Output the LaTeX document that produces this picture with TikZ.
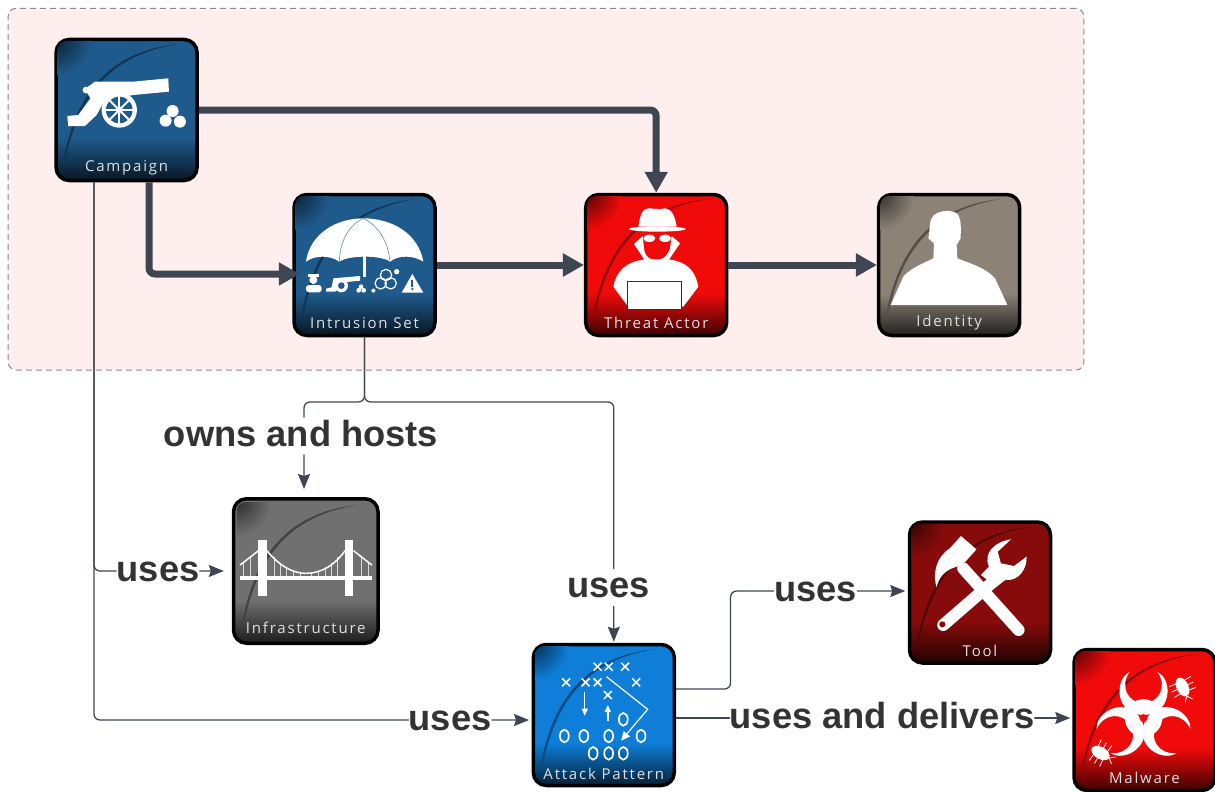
\documentclass[tikz,border=0pt]{standalone}
\usepackage{fontspec}
\setmainfont{Liberation Sans}
\newfontfamily\boxcaptionfont[LetterSpace=12]{Open Sans}
\usetikzlibrary{arrows.meta, positioning}

\definecolor{zonepink}{HTML}{FEEFEE}
\definecolor{zonegray}{HTML}{8A8A96}
\definecolor{linkgray}{HTML}{3F4651}
\definecolor{labelgray}{HTML}{333333}
\definecolor{campaignblue}{HTML}{1F5A8C}
\definecolor{threatred}{HTML}{F00A0A}
\definecolor{identitytan}{HTML}{8C8376}
\definecolor{infragray}{HTML}{707070}
\definecolor{attackblue}{HTML}{0E7ED8}
\definecolor{tooldark}{HTML}{880B0B}

\pgfdeclareverticalshading[boxbase]{iconshade}{100bp}{color(0bp)=(boxbase!25!black); color(25bp)=(boxbase!25!black); color(40bp)=(boxbase); color(100bp)=(boxbase)}

% corner glow and swoosh of a box
\newcommand{\iconback}[1]{%
  \begin{scope}[shift={(#1.center)}]
    \begin{scope}
      \clip[rounded corners=9pt] (-69,-69) rectangle (69,69);
      \shade[inner color=boxbase!40!black, outer color=boxbase] (-69,-69) circle (34);
    \end{scope}
    \fill[boxbase!60!black] (-64,55) .. controls (-50,-30) and (-5,-60) .. (52,-66) .. controls (-3,-57) and (-47,-29) .. (-62,55) -- cycle;
  \end{scope}}

\begin{document}
\begin{tikzpicture}[x=1pt,y=-1pt,on grid,
	iconbox/.style={rectangle,rounded corners=13pt,draw=black,line width=3.5pt,minimum size=141pt,inner sep=0pt,shade,shading=iconshade},
	boxcaption/.style={text=white!88!black,font=\boxcaptionfont\fontsize{15}{17}\selectfont},
	zonebox/.style={rectangle,rounded corners=8pt,draw=zonegray,fill=zonepink,line width=1pt,dash pattern=on 6pt off 4pt,minimum width=1075.7pt,minimum height=361.7pt},
	heavylink/.style={draw=linkgray,line width=7pt,rounded corners=6pt,-{Triangle[length=21pt,width=22pt]}},
	thinlink/.style={draw=linkgray,line width=1.3pt,rounded corners=6pt,-{Stealth[length=15pt,width=12pt,inset=2pt]}},
	linklabel/.style={fill=white,text=labelgray,font=\bfseries\fontsize{36.3}{40}\selectfont,inner xsep=0pt,inner ysep=2pt,text height=27pt,text depth=6pt},
	iconart/.style={fill=white,draw=none}]

	\useasboundingbox (0,0) rectangle (1215,792);

	\node (zone) [zonebox] at (546,189.2) {};

	% boxes
	\colorlet{boxbase}{campaignblue}
	\node (campaign) [iconbox] at (126.6,110) {};
	\iconback{campaign}
	\begin{scope}[shift={(campaign.center)},scale=1/3,shift={(-380,-330)}]
		\fill[iconart] (262,262) -- (285,245) -- (400,245) -- (505,235) -- (507,275) -- (400,285) -- (315,300) -- (290,345) -- (255,378) -- (205,378) -- (202,348) -- (235,345) -- (272,295) -- (262,280) -- cycle;
		\fill[iconart] (258,270) circle (10);
		\fill[iconart] (358,330) circle (53);
		\fill[boxbase] (358,330) circle (40);
		\foreach \spoke in {0,45,90,135}
			\draw[white,line width=2pt] (358,330) ++(\spoke:42) -- ++(\spoke+180:84);
		\fill[iconart] (358,330) circle (11);
		\fill[iconart] (518,333) circle (18);
		\fill[iconart] (497,362) circle (18);
		\fill[iconart] (540,365) circle (18);
	\end{scope}
	\node (campaigntext) [boxcaption] at ([yshift=-58pt]campaign.center) {Campaign};

	\node (intrusion) [iconbox,below right=155pt and 237.9pt of campaign] {};
	\iconback{intrusion}
	\begin{scope}[shift={(intrusion.center)},scale=1/3,shift={(-1093.5,-795)}]
		\fill[iconart] (918,785) .. controls (930,700) and (1010,655) .. (1090,655) .. controls (1175,655) and (1255,700) .. (1270,785) .. controls (1240,765) and (1195,765) .. (1170,785) .. controls (1145,765) and (1045,765) .. (1018,785) .. controls (990,765) and (945,765) .. (918,785) -- cycle;
		\draw[boxbase!70!white,line width=.6pt] (1090,655) .. controls (1040,680) and (1020,730) .. (1018,785);
		\draw[boxbase!70!white,line width=.6pt] (1090,655) .. controls (1140,680) and (1165,730) .. (1170,785);
		\fill[iconart] (1089,765) rectangle (1099,832);
		% hat man
		\fill[iconart] (925,822) rectangle (957,832);
		\fill[iconart] (940,840) circle (12);
		\fill[iconart,rounded corners=3pt] (918,855) rectangle (965,877);
		% small cannon
		\fill[iconart] (1000,835) -- (1080,828) -- (1080,842) -- (1040,846) -- (1005,875) -- (978,875) -- (978,866) -- (995,862) -- cycle;
		\fill[iconart] (1024,857) circle (20);
		\fill[boxbase] (1024,857) circle (10);
		\fill[iconart] (1083,860) circle (7);
		\fill[iconart] (1076,871) circle (7);
		\fill[iconart] (1091,871) circle (7);
		% small biohazard
		\draw[white,line width=1.2pt] (1158,825) circle (17);
		\draw[white,line width=1.2pt] (1142,850) circle (17);
		\draw[white,line width=1.2pt] (1172,850) circle (17);
		\fill[iconart] (1190,815) circle (8);
		\fill[iconart] (1120,872) circle (6);
		% warning sign
		\fill[iconart] (1237,822) -- (1270,878) -- (1205,878) -- cycle;
		\fill[boxbase] (1234,840) rectangle (1240,860);
		\fill[boxbase] (1237,867) circle (4);
	\end{scope}
	\node (intrusiontext) [boxcaption] at ([yshift=-58pt]intrusion.center) {Intrusion Set};

	\colorlet{boxbase}{threatred}
	\node (threatactor) [iconbox,right=291.7pt of intrusion] {};
	\iconback{threatactor}
	\begin{scope}[shift={(threatactor.center)},scale=1/3,shift={(-258.6,-255)}]
		\fill[iconart] (205,140) .. controls (210,110) and (215,85) .. (235,85) .. controls (250,85) and (270,90) .. (285,85) .. controls (305,85) and (315,110) .. (320,140) -- cycle;
		\fill[iconart] (262,147) ellipse (85 and 8);
		\fill[iconart] (238,175) ellipse (18 and 11);
		\fill[iconart] (285,175) ellipse (18 and 11);
		\fill[iconart] (218,168) -- (192,192) -- (225,242) -- (295,242) -- (330,190) -- (305,168) -- (300,205) .. controls (290,235) and (270,240) .. (260,240) .. controls (245,240) and (225,235) .. (222,205) -- cycle;
		\fill[iconart] (130,320) .. controls (140,270) and (170,245) .. (225,238) -- (295,238) .. controls (350,245) and (375,270) .. (385,320) -- (340,380) -- (178,385) -- cycle;
		\draw[fill=white,draw=tooldark,line width=1pt] (172,303) rectangle (333,388);
	\end{scope}
	\node (threattext) [boxcaption] at ([yshift=-58pt]threatactor.center) {Threat Actor};

	\colorlet{boxbase}{identitytan}
	\node (identity) [iconbox,right=293pt of threatactor] {};
	\iconback{identity}
	\begin{scope}[shift={(identity.center)},scale=1/3,shift={(-1137.6,-255)}]
		\fill[iconart] (962,375) -- (1000,290) .. controls (1020,265) and (1060,250) .. (1090,235) -- (1092,190) -- (1075,175) .. controls (1080,150) and (1078,125) .. (1085,115) .. controls (1095,90) and (1150,85) .. (1165,105) .. controls (1175,125) and (1172,150) .. (1172,175) -- (1160,195) -- (1162,235) .. controls (1200,250) and (1250,265) .. (1275,295) -- (1312,375) -- cycle;
	\end{scope}
	\node (identitytext) [boxcaption] at ([yshift=-58pt]identity.center) {Identity};

	\colorlet{boxbase}{infragray}
	\node (infrastructure) [iconbox,minimum size=144.5pt,below left=306pt and 58.7pt of intrusion] {};
	\iconback{infrastructure}
	\begin{scope}[shift={(infrastructure.center)},scale=1/3,shift={(-677,-543)}]
		\foreach \hx/\hy in {490/520,510/505,582/500,600/518,620/532,640/542,660/547,695/547,715/542,735/532,755/518,772/500,845/505,865/520}
			\draw[white!85!black,line width=.8pt] (\hx,\hy) -- (\hx,560);
		\draw[white,line width=1.5pt] (560,482) .. controls (600,530) and (640,550) .. (677,550) .. controls (720,550) and (760,530) .. (795,482);
		\draw[white,line width=1.5pt] (535,482) -- (480,525);
		\draw[white,line width=1.5pt] (820,482) -- (875,525);
		\fill[iconart] (480,558) rectangle (875,570);
		\fill[iconart] (535,450) rectangle (560,617);
		\fill[iconart] (795,450) rectangle (820,617);
	\end{scope}
	\node (infrastructuretext) [boxcaption] at ([yshift=-57pt]infrastructure.center) {Infrastructure};

	\colorlet{boxbase}{attackblue}
	\node (attackpattern) [iconbox,below right=450pt and 239.3pt of intrusion] {};
	\iconback{attackpattern}
	\begin{scope}[shift={(attackpattern.center)},xscale=.4432,yscale=1/3,shift={(-189,-615)}]
		\foreach \px/\py in {175/470,200/470,237/470,104/517,148/517,175/517,262/517,198/555}
			\draw[white,line width=1.5pt] (\px-9,\py-12) -- (\px+9,\py+12) (\px+9,\py-12) -- (\px-9,\py+12);
		\foreach \px/\py in {233/628,100/678,144/678,200/678,273/678,165/730,200/730,233/730}
			\draw[white,line width=1.7pt] (\px,\py) ellipse (10 and 19);
		\draw[white,line width=1.2pt,-{Triangle[length=7pt,width=6pt]}] (146,545) -- (146,617);
		\draw[white,line width=1.6pt,-{Triangle[length=7pt,width=6pt]}] (198,632) -- (198,585);
		\draw[white,line width=1.2pt,-{Triangle[length=9pt,width=8pt]}] (195,500) -- (288,598) -- (228,692);
	\end{scope}
	\node (attacktext) [boxcaption] at ([yshift=-59pt]attackpattern.center) {Attack Pattern};

	\colorlet{boxbase}{tooldark}
	\node (tool) [iconbox,above right=122.5pt and 376.2pt of attackpattern] {};
	\iconback{tool}
	\begin{scope}[shift={(tool.center)},xscale=.4432,yscale=1/3,shift={(-1038,-247.5)}]
		\draw[white,line width=12pt,line cap=round] (1000,175) -- (1125,360);
		\fill[iconart] (995,78) -- (1030,118) -- (1005,155) -- (985,170) .. controls (960,180) and (945,200) .. (940,232) .. controls (930,190) and (940,140) .. (970,115) -- cycle;
		\draw[white,line width=12pt,line cap=round] (1085,195) -- (955,345);
		\fill[iconart] (1108,88) .. controls (1070,95) and (1045,130) .. (1058,170) -- (1040,195) -- (1075,230) -- (1095,210) .. controls (1125,215) and (1145,175) .. (1143,140) -- (1115,168) -- (1085,160) -- (1078,125) -- cycle;
		\fill[boxbase] (953,343) ellipse (7 and 9);
	\end{scope}
	\node (tooltext) [boxcaption] at ([yshift=-58pt]tool.center) {Tool};

	\colorlet{boxbase}{threatred}
	\node (malware) [iconbox,below right=5pt and 540.7pt of attackpattern] {};
	\iconback{malware}
	\begin{scope}[shift={(malware.center)}]
		\begin{scope}[shift={(-1,-2)}]
			\draw[white,line width=3.5pt] (0,0) circle (17);
			\foreach \blade in {90,210,330} {
				\draw[boxbase,line width=3pt,rotate=\blade] (-4,0) -- (13,0);
				\fill[iconart,rotate=\blade] (46,14) .. controls (38,30) and (3,28) .. (3,0) .. controls (3,-28) and (38,-30) .. (46,-14) .. controls (32,-24) and (15,-16) .. (15,0) .. controls (15,16) and (32,24) .. (46,14) -- cycle;
			}
			\fill[boxbase] (0,0) circle (4);
		\end{scope}
		% bugs
		\foreach \bx/\by/\br in {38/-33/-65,-44/33/-30} {
			\begin{scope}[shift={(\bx,\by)},rotate=\br]
				\fill[iconart] (0,0) ellipse (10 and 6);
				\draw[white,line width=.8pt] (-6,-12) -- (-5,0) -- (-6,12) (0,-12) -- (0,12) (6,-12) -- (5,0) -- (6,12) (10,0) -- (15,-4) (10,0) -- (15,4);
			\end{scope}
		}
	\end{scope}
	\node (malwaretext) [boxcaption] at ([yshift=-58pt]malware.center) {Malware};

	% links
	\path [heavylink] (campaign.east) -| (threatactor.north);
	\path [heavylink] ([xshift=22.4pt]campaign.south) |- ([xshift=7.5pt,yshift=-9pt]intrusion.west);
	\path [heavylink] (intrusion.east) -- (threatactor.west);
	\path [heavylink] (threatactor.east) -- (identity.west);

	\coordinate (fork) at ([yshift=-64.7pt]intrusion.south);
	\path [thinlink,shorten >=8pt] (intrusion.south) -- (fork) -| node [linklabel,pos=.68,xshift=-3pt] (hostslabel) {owns and hosts} ([xshift=-1.8pt]infrastructure.north);
	\path [thinlink,shorten >=1pt] (intrusion.south) -- (fork) -| node [linklabel,pos=.885,xshift=-5pt] (patternlabel) {uses} ([xshift=10pt]attackpattern.north);
	\path [thinlink,shorten >=8pt] ([xshift=-32.6pt]campaign.south) |- node [linklabel,pos=.7324] (infralabel) {uses} (infrastructure.west);
	\path [thinlink,shorten >=2.5pt] ([xshift=-32.6pt]campaign.south) |- node [linklabel,pos=.907] (attacklabel) {uses} ([yshift=-5pt]attackpattern.west);
	\path [thinlink,shorten >=2.5pt] ([yshift=26pt]attackpattern.east) -- ++(54.5,0) |- node [linklabel,pos=.74] (toollabel) {uses} ([yshift=1.5pt]tool.west);
	\path [thinlink,shorten >=2pt] ([yshift=-3pt]attackpattern.east) -- node [linklabel,pos=.52] (malwarelabel) {uses and delivers} ([yshift=2pt]malware.west);
\end{tikzpicture}
\end{document}
